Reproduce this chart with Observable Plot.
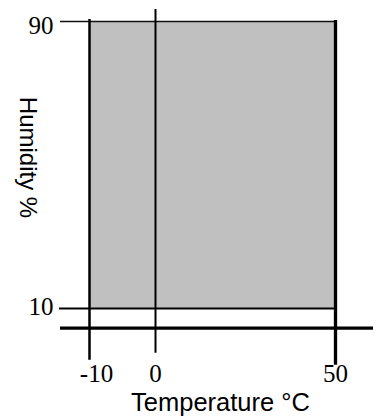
<!DOCTYPE html>
<html>
<head>
<meta charset="utf-8">
<script src="https://cdn.jsdelivr.net/npm/d3@7"></script>
<script src="https://cdn.jsdelivr.net/npm/@observablehq/plot@0.6"></script>
<style>
  html, body { margin: 0; padding: 0; background: #fff; }
</style>
</head>
<body>
<div id="chart"></div>
<script>
// Data
const tempRange = [-10, 50];       // °C
const humidityRange = [10, 90];    // %
const xTicks = [-10, 0, 50];
const yTicks = [10, 90];
const xLabel = "Temperature °C";
const yLabel = "Humidity %";

const region = [{x1: tempRange[0], x2: tempRange[1], y1: humidityRange[0], y2: humidityRange[1]}];

// piecewise (non-uniform) scales, as in the reference drawing
const xs = d3.scaleLinear().domain([-10, 0, 50]).range([89, 155, 335]);
const ys = d3.scaleLinear().domain([0, 10, 90]).range([327.7, 308, 21]);

const serif = "Liberation Serif, Times New Roman, serif";
const sans = "Liberation Sans, Arial, Helvetica, sans-serif";

const chart = Plot.plot({
  width: 379,
  height: 417,
  margin: 0,
  style: {background: "#fff"},
  x: {type: "identity", axis: null},
  y: {type: "identity", axis: null},
  marks: [
    Plot.rect(region, {x1: d => xs(d.x1), x2: d => xs(d.x2), y1: d => ys(d.y1), y2: d => ys(d.y2), fill: "#c0c0c0"}),
    // top humidity line (90)
    Plot.ruleY([humidityRange[1]], {y: d => ys(d), x1: xs(tempRange[0]), x2: xs(tempRange[1]), stroke: "#111", strokeWidth: 1.3, insetLeft: -29}),
    // bottom humidity line (10)
    Plot.ruleY([humidityRange[0]], {y: d => ys(d), x1: xs(tempRange[0]), x2: xs(tempRange[1]), stroke: "#000", strokeWidth: 2, insetLeft: -30}),
    // x axis line (y = 0)
    Plot.ruleY([0], {y: d => ys(d), x1: xs(tempRange[0]), x2: xs(tempRange[1]), stroke: "#000", strokeWidth: 3.3, insetLeft: -29, insetRight: -38}),
    // vertical lines
    Plot.ruleX([tempRange[0]], {x: d => xs(d), y1: ys(humidityRange[1]), y2: ys(0), stroke: "#000", strokeWidth: 2.5, insetTop: -2, insetBottom: -32}),
    Plot.ruleX([0], {x: d => xs(d), y1: ys(humidityRange[1]), y2: ys(0), stroke: "#000", strokeWidth: 2, insetTop: -12, insetBottom: -25}),
    Plot.ruleX([tempRange[1]], {x: d => xs(d), y1: ys(humidityRange[1]), y2: ys(0), stroke: "#000", strokeWidth: 3.3, insetTop: -1, insetBottom: -37}),
    // y tick labels
    Plot.text(yTicks.filter(d => d === 90), {y: d => ys(d), text: d => String(d), frameAnchor: "left", dx: 53, dy: 4, textAnchor: "end", fontFamily: serif, fontSize: 25, fill: "#000"}),
    Plot.text(yTicks.filter(d => d === 10), {y: d => ys(d), text: d => String(d), frameAnchor: "left", dx: 53, dy: -1.5, textAnchor: "end", fontFamily: serif, fontSize: 25, fill: "#000"}),
    // x tick labels
    Plot.text(xTicks.filter(d => d >= 0), {x: d => xs(d), y: ys(0), text: d => String(d), dy: 36, lineAnchor: "top", textAnchor: "middle", fontFamily: serif, fontSize: 25, fill: "#000"}),
    Plot.text(xTicks.filter(d => d < 0), {x: d => xs(d), y: ys(0), text: d => String(d), dx: 7, dy: 36, lineAnchor: "top", textAnchor: "middle", fontFamily: serif, fontSize: 25, fill: "#000"}),
    // axis titles
    Plot.text([xLabel], {text: d => d, frameAnchor: "bottom", dx: 30.5, dy: -7, lineAnchor: "bottom", textAnchor: "middle", fontFamily: sans, fontSize: 25.5, fill: "#000"}),
    Plot.text([yLabel], {text: d => d, frameAnchor: "left", dx: 27.5, dy: -51.5, rotate: 90, lineAnchor: "middle", textAnchor: "middle", fontFamily: sans, fontSize: 24, fill: "#000"})
  ]
});

document.getElementById("chart").appendChild(chart);
</script>
</body>
</html>
